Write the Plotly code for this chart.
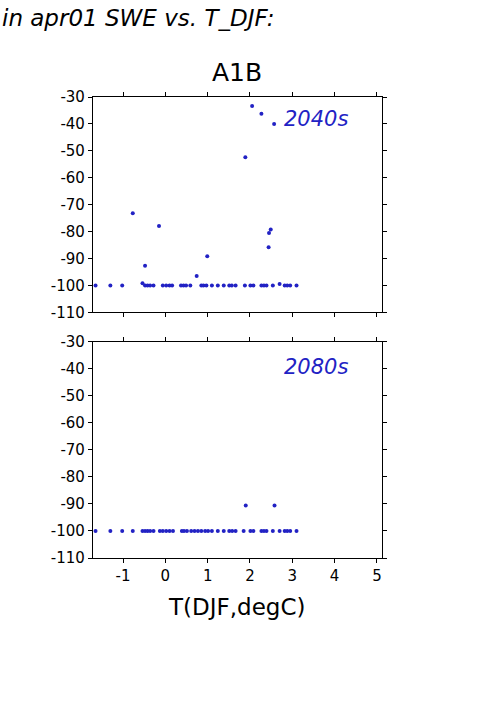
import plotly.graph_objects as go

# ---- data ----
x_2040 = [-1.65, -1.30, -1.02, -0.54, -0.48, -0.42, -0.36, -0.28, -0.06, 0.02,
          0.10, 0.16, 0.37, 0.43, 0.49, 0.59, 0.85, 0.90, 0.97, 1.10,
          1.24, 1.38, 1.51, 1.57, 1.66, 1.88, 2.01, 2.08, 2.27, 2.33,
          2.39, 2.54, 2.70, 2.82, 2.88, 2.95, 3.10,
          2.05, 2.27, 2.57, 1.89, -0.77, -0.15, 2.49, 2.45, 2.44, -0.48, 0.99, 0.74]
y_2040 = [-100, -100, -100, -99.2, -100, -100, -100, -100, -100, -100,
          -100, -100, -100, -100, -100, -100, -100, -100, -100, -100,
          -100, -100, -100, -100, -100, -100, -100, -100, -100, -100,
          -100, -100, -99.5, -100, -100, -100, -100,
          -33.3, -36.2, -40.0, -52.4, -73.2, -77.9, -79.2, -80.5, -85.8, -92.7, -89.2, -96.5]

x_2080 = [-1.65, -1.30, -1.02, -0.77, -0.54, -0.48, -0.42, -0.36, -0.28, -0.13,
          -0.06, 0.02, 0.10, 0.18, 0.39, 0.44, 0.51, 0.61, 0.69, 0.77,
          0.85, 0.94, 1.01, 1.10, 1.24, 1.38, 1.51, 1.58, 1.66, 1.85,
          2.01, 2.08, 2.27, 2.33, 2.39, 2.54, 2.70, 2.82, 2.88, 2.95,
          3.10, 1.90, 2.58]
y_2080 = [-100] * 41 + [-90.6, -90.6]

y_ticks = [-110, -100, -90, -80, -70, -60, -50, -40, -30]
y_ticktext = ["-110", "-100", "-90", "-80", "-70", "-60", "-50", "-40", "-30"]
x_ticks = [-1, 0, 1, 2, 3, 4, 5]
x_ticktext = ["-1", "0", "1", "2", "3", "4", "5"]

period_labels = ["2040s", "2080s"]
scenario = "A1B"
top_text = "in apr01 SWE vs. T_DJF:"
x_label = "T(DJF,degC)"

FONT = "DejaVu Sans"
BLUE = "#2222c4"

fig = go.Figure()
fig.add_trace(go.Scatter(x=x_2040, y=y_2040, mode="markers", xaxis="x", yaxis="y",
                         marker=dict(size=4, color=BLUE), showlegend=False))
fig.add_trace(go.Scatter(x=x_2080, y=y_2080, mode="markers", xaxis="x2", yaxis="y2",
                         marker=dict(size=4, color=BLUE), showlegend=False))

axis_common = dict(showline=True, mirror="allticks", linecolor="black", linewidth=1.2,
                   ticks="outside", ticklen=4, tickcolor="black", tickwidth=1,
                   showgrid=False, zeroline=False,
                   tickfont=dict(family=FONT, size=15, color="black"))

xr = [-1.71, 5.12]
yr = [-110, -30]

fig.update_layout(
    width=501, height=709,
    margin=dict(l=93, r=119, t=97, b=151),
    paper_bgcolor="white", plot_bgcolor="white",
    xaxis=dict(domain=[0, 1], anchor="y", range=xr, tickvals=x_ticks, ticktext=x_ticktext,
               showticklabels=False, **axis_common),
    yaxis=dict(domain=[0.533, 1], anchor="x", range=yr, tickvals=y_ticks, ticktext=y_ticktext,
               **axis_common),
    xaxis2=dict(domain=[0, 1], anchor="y2", range=xr, tickvals=x_ticks, ticktext=x_ticktext,
                **axis_common),
    yaxis2=dict(domain=[0, 0.469], anchor="x2", range=yr, tickvals=y_ticks, ticktext=y_ticktext,
                **axis_common),
    annotations=[
        dict(text="<i>" + period_labels[0] + "</i>", xref="paper", yref="paper",
             x=0.889, y=0.952, xanchor="right", yanchor="middle", showarrow=False,
             font=dict(family=FONT, size=21, color=BLUE)),
        dict(text="<i>" + period_labels[1] + "</i>", xref="paper", yref="paper",
             x=0.889, y=0.414, xanchor="right", yanchor="middle", showarrow=False,
             font=dict(family=FONT, size=21, color=BLUE)),
        dict(text=scenario, xref="paper", yref="paper",
             x=0.498, y=1.054, xanchor="center", yanchor="middle", showarrow=False,
             font=dict(family=FONT, size=25, color="black")),
        dict(text="<i>" + top_text + "</i>", xref="paper", yref="paper",
             x=-0.322, y=1.171, xanchor="left", yanchor="middle", showarrow=False,
             font=dict(family=FONT, size=23, color="black")),
        dict(text=x_label, xref="paper", yref="paper",
             x=0.498, y=-0.106, xanchor="center", yanchor="middle", showarrow=False,
             font=dict(family=FONT, size=23, color="black")),
    ],
)

fig.write_html("out.html", config={"displayModeBar": False},
               post_script="document.body.style.margin='0';document.body.style.padding='0';")
